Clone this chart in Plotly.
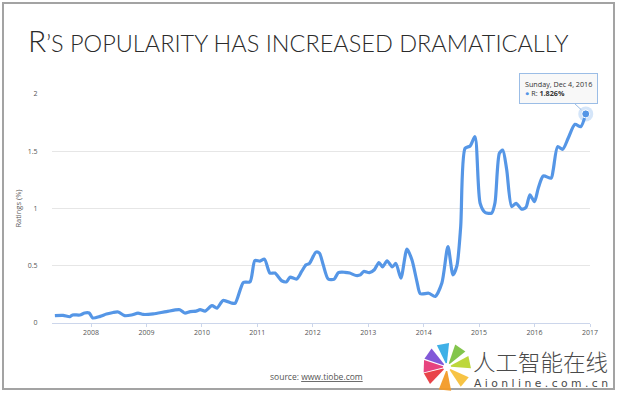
import math
import plotly.graph_objects as go

# ---------------- data ----------------
dates = [
    "2007-05-08", "2007-07-01", "2007-08-15", "2007-09-01", "2007-10-20", "2007-11-20", "2007-12-20",
    "2008-01-12", "2008-03-01", "2008-04-12", "2008-05-26", "2008-06-28", "2008-08-10", "2008-09-24",
    "2008-11-06", "2008-12-10", "2009-02-14", "2009-05-12", "2009-08-08", "2009-09-10", "2009-10-16",
    "2009-11-24", "2009-12-20", "2010-01-22", "2010-03-08", "2010-04-10", "2010-05-20", "2010-07-16",
    "2010-08-08", "2010-09-10", "2010-10-01", "2010-11-14", "2010-12-16", "2011-01-18", "2011-02-17",
    "2011-03-25", "2011-04-27", "2011-06-10", "2011-07-13", "2011-08-04", "2011-09-17", "2011-10-20",
    "2011-11-18", "2011-12-10", "2012-01-22", "2012-02-14", "2012-03-10", "2012-04-12", "2012-05-22",
    "2012-06-18", "2012-07-30", "2012-09-01", "2012-10-12", "2012-11-10", "2012-12-02", "2013-01-08",
    "2013-02-10", "2013-03-12", "2013-04-05", "2013-05-05", "2013-06-08", "2013-07-02", "2013-08-04",
    "2013-09-13", "2013-10-16", "2013-11-18", "2013-12-10", "2014-02-03", "2014-03-18", "2014-05-01",
    "2014-06-10", "2014-07-13", "2014-08-08", "2014-09-02", "2014-10-01", "2014-11-03", "2014-12-05",
    "2015-01-08", "2015-02-10", "2015-03-25", "2015-04-16", "2015-05-15", "2015-06-06", "2015-07-02",
    "2015-08-04", "2015-09-02", "2015-10-08", "2015-11-06", "2015-12-02", "2016-01-01", "2016-01-26",
    "2016-02-28", "2016-04-20", "2016-05-04", "2016-06-02", "2016-07-05", "2016-08-10", "2016-09-24",
    "2016-11-01", "2016-12-04",
]
ratings = [
    0.064, 0.066, 0.055, 0.070, 0.070, 0.087, 0.087,
    0.044, 0.058, 0.078, 0.092, 0.096, 0.064, 0.070,
    0.087, 0.075, 0.080, 0.100, 0.116, 0.087, 0.100,
    0.104, 0.116, 0.104, 0.151, 0.130, 0.197, 0.174,
    0.174, 0.290, 0.354, 0.360, 0.546, 0.540, 0.558,
    0.436, 0.436, 0.369, 0.360, 0.400, 0.384, 0.450,
    0.508, 0.520, 0.619, 0.610, 0.508, 0.384, 0.384,
    0.440, 0.443, 0.436, 0.415, 0.420, 0.450, 0.440,
    0.465, 0.528, 0.490, 0.543, 0.490, 0.520, 0.392,
    0.645, 0.550, 0.360, 0.255, 0.260, 0.232, 0.349,
    0.668, 0.421, 0.500, 0.842, 1.526, 1.546, 1.627,
    1.046, 0.965, 0.960, 1.050, 1.482, 1.510, 1.340,
    1.017, 1.046, 0.995, 1.010, 1.120, 1.060, 1.177,
    1.284, 1.265, 1.340, 1.540, 1.517, 1.613, 1.735,
    1.714, 1.826,
]
year_ticks = ["2008-01-01", "2009-01-01", "2010-01-01", "2011-01-01", "2012-01-01",
              "2013-01-01", "2014-01-01", "2015-01-01", "2016-01-01", "2017-01-01"]
year_labels = ["2008", "2009", "2010", "2011", "2012", "2013", "2014", "2015", "2016", "2017"]
y_ticks = [0, 0.5, 1, 1.5, 2]
y_labels = ["0", "0.5", "1", "1.5", "2"]

series_name = "R"
tooltip_date = "Sunday, Dec 4, 2016"

# ---------------- layout geometry ----------------
W, H = 619, 395
L, R, T, B = 52, 29, 94, 72
PW, PH = W - L - R, H - T - B

def pxx(x):
    return (x - L) / PW

def pxy(y):
    return (H - B - y) / PH

LINE = "#5596e6"

fig = go.Figure()
fig.add_trace(go.Scatter(
    x=dates, y=ratings, mode="lines", name=series_name,
    line=dict(color=LINE, width=3.2, shape="spline", smoothing=0.7),
    hoverinfo="skip", showlegend=False,
))
fig.add_trace(go.Scatter(
    x=[dates[-1]], y=[ratings[-1]], mode="markers",
    marker=dict(size=15, color="rgba(85,150,230,0.25)"),
    hoverinfo="skip", showlegend=False, cliponaxis=False,
))
fig.add_trace(go.Scatter(
    x=[dates[-1]], y=[ratings[-1]], mode="markers",
    marker=dict(size=8, color=LINE, line=dict(color="white", width=1)),
    hoverinfo="skip", showlegend=False, cliponaxis=False,
))

annotations = []
annotations.append(dict(
    x=dates[-1], y=ratings[-1], xref="x", yref="y",
    text=(f"{tooltip_date}<br><span style='color:{LINE}'>●</span> "
          f"{series_name}: <b>{ratings[-1]:.3f}%</b>"),
    showarrow=True, arrowhead=0, arrowwidth=1, arrowcolor="#9bbde6",
    ax=-27, ay=-25, standoff=6,
    align="left", font=dict(family="Open Sans", size=7.2, color="#333333"),
    bgcolor="rgba(247,247,247,0.92)", bordercolor="#9bbde6", borderwidth=1, borderpad=5,
))
annotations.append(dict(
    x=pxx(316), y=pxy(376), xref="paper", yref="paper", showarrow=False,
    text="source: <span style='text-decoration:underline'>www.tiobe.com</span>",
    font=dict(family="Open Sans", size=8.5, color="#555555"),
    xanchor="center", yanchor="middle",
))
annotations.append(dict(
    x=pxx(471), y=pxy(361), xref="paper", yref="paper", showarrow=False,
    text="人工智能在线", xanchor="left", yanchor="middle",
    font=dict(family="Noto Sans CJK SC", size=22.5, color="#4a4a4a", weight=300),
))
annotations.append(dict(
    x=pxx(472), y=pxy(383), xref="paper", yref="paper", showarrow=False,
    text="A i o n l i n e . c o m . c n", xanchor="left", yanchor="middle",
    font=dict(family="DejaVu Sans", size=10.8, color="#4a4a4a"),
))

shapes = []
shapes.append(dict(type="rect", xref="paper", yref="paper",
                   x0=pxx(3), x1=pxx(614), y0=pxy(389), y1=pxy(3),
                   line=dict(color="#a3a3a3", width=2), layer="below"))
# watermark pinwheel logo
cx, cy = 447, 367
spokes = [(145, "#7b4fd6"), (100, "#35ace6"), (55, "#7cc242"), (12, "#b9d532"),
          (-40, "#f7c03a"), (-95, "#f39a26"), (-150, "#e8393f"), (178, "#e63a78")]
for ang, col in spokes:
    pts = []
    for r, da in ((4, -9), (24, -15), (24, 15), (4, 9)):
        a = math.radians(ang + da)
        pts.append((pxx(cx + r * math.cos(a)), pxy(cy - r * math.sin(a))))
    path = "M " + " L ".join(f"{x:.5f},{y:.5f}" for x, y in pts) + " Z"
    shapes.append(dict(type="path", xref="paper", yref="paper", path=path,
                       fillcolor=col, line=dict(width=0), opacity=0.95))

fig.update_layout(
    width=W, height=H,
    margin=dict(l=L, r=R, t=T, b=B),
    paper_bgcolor="white", plot_bgcolor="white",
    title=dict(
        text="R<span style='font-size:23.5px'>’S POPULARITY HAS INCREASED DRAMATICALLY</span>",
        x=28 / W, xanchor="left", xref="container",
        y=1 - 41 / H, yanchor="middle", yref="container",
        font=dict(family="Lato", size=30, color="#2b2b2b", weight=300),
    ),
    xaxis=dict(
        type="date", range=["2007-04-19", "2017-01-01"],
        tickvals=year_ticks, ticktext=year_labels,
        showgrid=False, showline=True, linecolor="#ccd6eb", linewidth=1,
        ticks="outside", ticklen=3, tickcolor="#ccd6eb",
        tickfont=dict(family="Open Sans", size=7, color="#555555"),
        zeroline=False,
    ),
    yaxis=dict(
        range=[0, 2], tickvals=y_ticks, ticktext=y_labels,
        showgrid=True, gridcolor="#e6e6e6", gridwidth=1,
        zeroline=False, showline=False,
        ticks="outside", ticklen=12, tickcolor="rgba(0,0,0,0)",
        tickfont=dict(family="Open Sans", size=7, color="#555555"),
        title=dict(text="Ratings (%)", standoff=5,
                   font=dict(family="Open Sans", size=7.5, color="#555555")),
    ),
    annotations=annotations,
    shapes=shapes,
)

fig.write_html(
    "out.html",
    config={"displayModeBar": False},
    post_script="document.body.style.margin='0';document.body.style.overflow='hidden';",
)
